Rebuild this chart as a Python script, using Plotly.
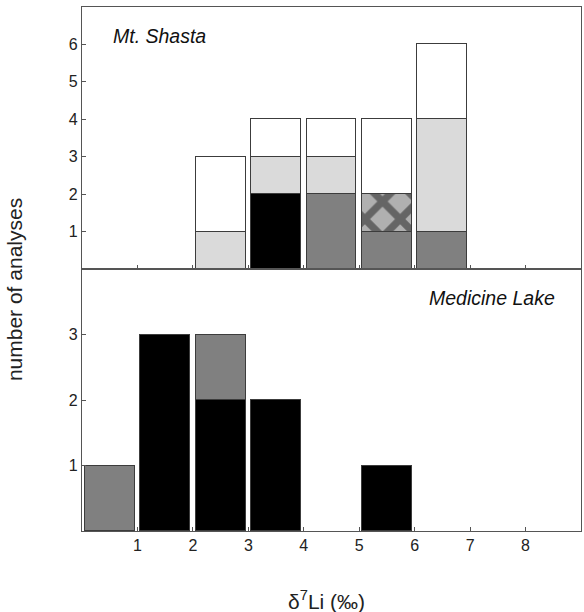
import plotly.graph_objects as go
from plotly.subplots import make_subplots

# bins of delta7Li (per mil), centred on half-integers
bin_centers = [0.5, 1.5, 2.5, 3.5, 4.5, 5.5, 6.5, 7.5, 8.5]

# Mt. Shasta (stacked, bottom -> top)
shasta_darkgray = [0, 0, 0, 0, 2, 1, 1, 0, 0]
shasta_black    = [0, 0, 0, 2, 0, 0, 0, 0, 0]
shasta_pattern  = [0, 0, 0, 0, 0, 1, 0, 0, 0]
shasta_light    = [0, 0, 1, 1, 1, 0, 3, 0, 0]
shasta_white    = [0, 0, 2, 1, 1, 2, 2, 0, 0]

# Medicine Lake (stacked, bottom -> top)
medicine_black    = [0, 3, 2, 2, 0, 1, 0, 0, 0]
medicine_darkgray = [1, 0, 1, 0, 0, 0, 0, 0, 0]

x_ticks = [1, 2, 3, 4, 5, 6, 7, 8]
shasta_yticks = [1, 2, 3, 4, 5, 6]
medicine_yticks = [1, 2, 3]

FONT = "Liberation Sans, Arial, Helvetica, sans-serif"
EDGE = "#3c3c3c"
AX = "#555555"

fig = make_subplots(rows=2, cols=1, shared_xaxes=True, vertical_spacing=0)


def nz(xs, ys):
    pairs = [(x, y) for x, y in zip(xs, ys) if y]
    return [p[0] for p in pairs], [p[1] for p in pairs]


def add(vals, color, row, pattern=None):
    xs, ys = nz(bin_centers, vals)
    marker = dict(color=color, line=dict(color=EDGE, width=1))
    if pattern:
        marker["pattern"] = pattern
    fig.add_trace(go.Bar(x=xs, y=ys, width=0.9, marker=marker, showlegend=False,
                         hoverinfo="skip"), row=row, col=1)


add(shasta_darkgray, "#808080", 1)
add(shasta_black, "#000000", 1)
add(shasta_pattern, "#a8a8a8", 1,
    pattern=dict(shape="x", fgcolor="#1a1a1a", bgcolor="#b0b0b0", size=25, solidity=0.5))
add(shasta_light, "#dadada", 1)
add(shasta_white, "#ffffff", 1)

add(medicine_black, "#000000", 2)
add(medicine_darkgray, "#808080", 2)

axis_common = dict(showline=True, linecolor=AX, linewidth=1.3, mirror=True,
                   showgrid=False, zeroline=False, ticks="inside", ticklen=4,
                   tickcolor=AX, tickfont=dict(family=FONT, size=16, color="#222"))

fig.update_xaxes(range=[0, 9], tickvals=x_ticks, **axis_common)
fig.update_xaxes(showticklabels=False, row=1, col=1)
fig.update_yaxes(range=[0, 7], tickvals=shasta_yticks, row=1, col=1, **axis_common)
fig.update_yaxes(range=[0, 4], tickvals=medicine_yticks, row=2, col=1, **axis_common)

fig.update_layout(
    width=584, height=612,
    margin=dict(l=82, r=3, t=7, b=81),
    barmode="stack", bargap=0,
    plot_bgcolor="white", paper_bgcolor="white",
    font=dict(family=FONT, color="#222"),
)

fig.add_annotation(text="<i>Mt. Shasta</i>", xref="x", yref="y", x=0.52, y=6.22,
                   xanchor="left", yanchor="middle", showarrow=False,
                   font=dict(family=FONT, size=19.5, color="#111"))
fig.add_annotation(text="<i>Medicine Lake</i>", xref="x2", yref="y2", x=8.56, y=3.55,
                   xanchor="right", yanchor="middle", showarrow=False,
                   font=dict(family=FONT, size=19.5, color="#111"))
fig.add_annotation(text="number of analyses", xref="paper", yref="paper",
                   x=-0.134, y=0.46, textangle=-90, showarrow=False,
                   xanchor="center", yanchor="middle",
                   font=dict(family=FONT, size=21, color="#222"))
fig.add_annotation(text="δ<sup>7</sup>Li (‰)", xref="paper", yref="paper",
                   x=0.49, y=-0.132, showarrow=False, xanchor="center", yanchor="middle",
                   font=dict(family=FONT, size=21, color="#222"))

fig.write_html("out.html", config={"displayModeBar": False},
               post_script="document.body.style.margin='0';document.body.style.overflow='hidden';")
